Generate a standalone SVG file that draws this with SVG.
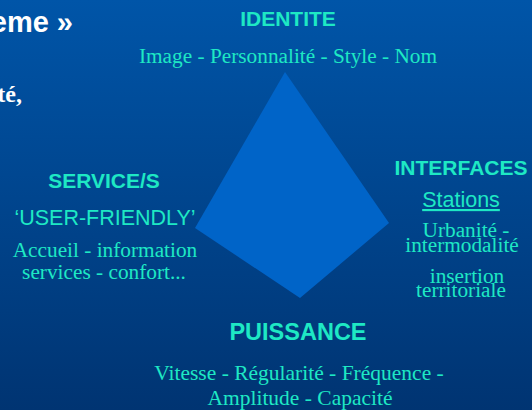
<svg xmlns="http://www.w3.org/2000/svg" width="532" height="410" viewBox="0 0 532 410">
<defs>
<linearGradient id="bg" x1="0" y1="0" x2="0" y2="1">
<stop offset="0" stop-color="#0055a8"/>
<stop offset="1" stop-color="#003472"/>
</linearGradient>
<style>
.h{font-family:"Liberation Sans",Arial,sans-serif;font-weight:bold;fill:#1ee8c4;text-anchor:middle}
.s{font-family:"Liberation Sans",Arial,sans-serif;fill:#1ee8c4;text-anchor:middle}
.t{font-family:"Liberation Serif","Times New Roman",serif;fill:#1ee8c4;text-anchor:middle}
.w{fill:#ffffff;font-weight:bold}
</style>
</defs>
<rect x="0" y="0" width="532" height="410" fill="url(#bg)"/>
<text class="w" x="73" y="32" text-anchor="end" font-family="Liberation Sans, Arial, sans-serif" font-size="29">eme »</text>
<text class="w" x="22" y="102" text-anchor="end" font-family="Liberation Serif, Times New Roman, serif" font-size="24">té,</text>
<g id="kite">
<polygon points="285,72 389,223 300,298 195,228" fill="#0064c8"/>
</g>
<g id="identite">
<text class="h" x="288" y="26" font-size="21">IDENTITE</text>
<text class="t" x="288" y="63" font-size="21.3">Image - Personnalité - Style - Nom</text>
</g>
<g id="service">
<text class="h" x="104" y="188" font-size="21">SERVICE/S</text>
<text class="s" x="105" y="225" font-size="21.5">‘USER-FRIENDLY’</text>
<text class="t" x="105" y="257" font-size="21.3">Accueil - information</text>
<text class="t" x="104" y="279" font-size="21.3">services - confort...</text>
</g>
<g id="interfaces">
<text class="h" x="461" y="175" font-size="21">INTERFACES</text>
<text class="s" x="461" y="207" font-size="21.5" text-decoration="underline">Stations</text>
<text class="t" x="466" y="237" font-size="21.3">Urbanité -</text>
<text class="t" x="462" y="252" font-size="21.3">intermodalité</text>
<text class="t" x="467" y="283" font-size="21.3">insertion</text>
<text class="t" x="461" y="297" font-size="21.3">territoriale</text>
</g>
<g id="puissance">
<text class="h" x="298" y="340" font-size="23.5">PUISSANCE</text>
<text class="t" x="299" y="380" font-size="21.5">Vitesse - Régularité - Fréquence -</text>
<text class="t" x="300" y="405" font-size="21.5">Amplitude - Capacité</text>
</g>
<g id="connectors"/>
</svg>
